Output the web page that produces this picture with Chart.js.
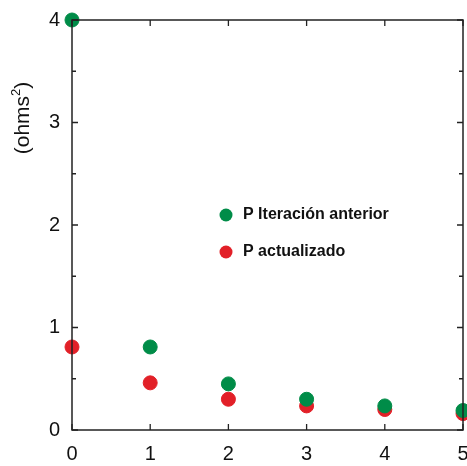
<!DOCTYPE html>
<html>
<head>
<meta charset="utf-8">
<script src="https://cdn.jsdelivr.net/npm/chart.js@4/dist/chart.umd.min.js"></script>
<style>
  html, body { margin: 0; padding: 0; background: #fff; }
  #wrap { width: 467px; height: 466px; }
</style>
</head>
<body>
<div id="wrap"><canvas id="c" width="467" height="466"></canvas></div>
<script>
// data
const xs = [0, 1, 2, 3, 4, 5];
const pAnterior = [4.0, 0.81, 0.45, 0.30, 0.235, 0.19];
const pActualizado = [0.81, 0.46, 0.30, 0.235, 0.20, 0.16];
const seriesNames = ["P Iteración anterior", "P actualizado"];
const yLabel = ["(ohms", "2", ")"];

const green = "rgb(0,140,72)";
const red = "rgb(226,32,40)";
const font = "Liberation Sans, Arial, sans-serif";

// frame, inward ticks, legend and y title
const decor = {
  id: "decor",
  afterDraw(chart) {
    let ctx = chart.ctx;
    let a = chart.chartArea;
    let sx = chart.scales.x, sy = chart.scales.y;
    ctx.save();
    ctx.strokeStyle = "#222";
    ctx.lineWidth = 1.5;
    ctx.strokeRect(a.left, a.top, a.right - a.left, a.bottom - a.top);
    ctx.lineWidth = 1.3;
    ctx.beginPath();
    xs.forEach(v => {
      let px = sx.getPixelForValue(v);
      ctx.moveTo(px, a.bottom); ctx.lineTo(px, a.bottom - 6);
      ctx.moveTo(px, a.top); ctx.lineTo(px, a.top + 6);
    });
    for (let v = 0; v <= 4; v += 0.5) {
      let py = sy.getPixelForValue(v);
      let len = (v % 1 === 0) ? 6 : 4;
      ctx.moveTo(a.left, py); ctx.lineTo(a.left + len, py);
      ctx.moveTo(a.right, py); ctx.lineTo(a.right - len, py);
    }
    ctx.stroke();

    // legend
    let items = [[seriesNames[0], green, 215], [seriesNames[1], red, 252]];
    ctx.font = "bold 16px " + font;
    ctx.textBaseline = "middle";
    items.forEach(it => {
      ctx.fillStyle = it[1];
      ctx.beginPath(); ctx.arc(226, it[2], 6.5, 0, Math.PI * 2); ctx.fill();
      ctx.fillStyle = "#111";
      ctx.fillText(it[0], 243, it[2]);
    });

    // y title with superscript
    ctx.translate(29, 118);
    ctx.rotate(-Math.PI / 2);
    ctx.fillStyle = "#111";
    ctx.textBaseline = "alphabetic";
    let big = "21px " + font, small = "13px " + font;
    ctx.font = big;
    let w1 = ctx.measureText(yLabel[0]).width, w3 = ctx.measureText(yLabel[2]).width;
    ctx.font = small;
    let w2 = ctx.measureText(yLabel[1]).width;
    let x0 = -(w1 + w2 + w3) / 2;
    ctx.font = big;
    ctx.fillText(yLabel[0], x0, 0);
    ctx.font = small;
    ctx.fillText(yLabel[1], x0 + w1, -9);
    ctx.font = big;
    ctx.fillText(yLabel[2], x0 + w1 + w2, 0);
    ctx.restore();
  }
};

new Chart(document.getElementById("c"), {
  type: "scatter",
  data: {
    datasets: [
      { label: seriesNames[0], data: xs.map((x, i) => ({ x: x, y: pAnterior[i] })), clip: false,
        backgroundColor: green, borderColor: green, pointRadius: 7, pointHoverRadius: 7 },
      { label: seriesNames[1], data: xs.map((x, i) => ({ x: x, y: pActualizado[i] })), clip: false,
        backgroundColor: red, borderColor: red, pointRadius: 7, pointHoverRadius: 7 }
    ]
  },
  options: {
    responsive: false,
    animation: false,
    events: [],
    layout: { autoPadding: false, padding: { top: 20, right: 4, left: 0, bottom: 0 } },
    plugins: { legend: { display: false }, tooltip: { enabled: false } },
    scales: {
      x: {
        type: "linear", min: 0, max: 5,
        grid: { display: false, drawTicks: false },
        border: { display: false },
        afterFit(s) { s.height = 36; s.paddingLeft = 0; s.paddingRight = 0; },
        ticks: { stepSize: 1, color: "#111", padding: 12, font: { family: font, size: 20 } }
      },
      y: {
        min: 0, max: 4,
        grid: { display: false, drawTicks: false },
        border: { display: false },
        afterFit(s) { s.width = 72; s.paddingTop = 0; s.paddingBottom = 0; },
        ticks: { stepSize: 1, color: "#111", padding: 12, font: { family: font, size: 20 } }
      }
    }
  },
  plugins: [decor]
});
</script>
</body>
</html>
